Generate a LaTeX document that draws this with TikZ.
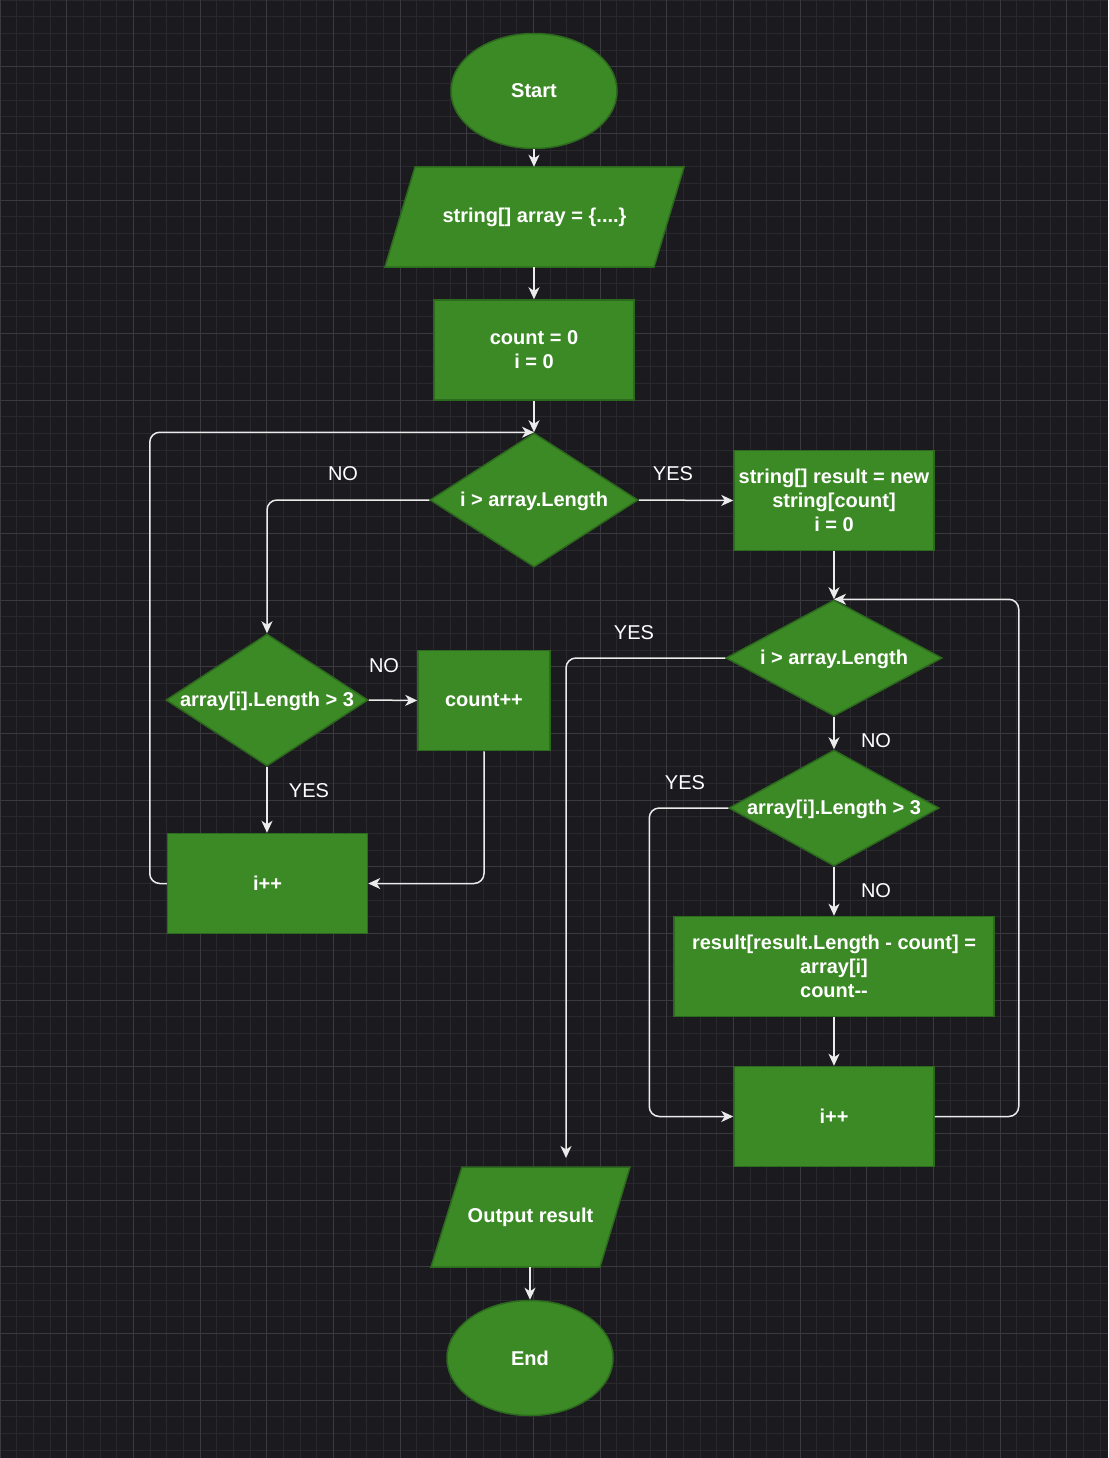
\documentclass[tikz,border=0pt]{standalone}
\usepackage{fontspec}
\setmainfont{Liberation Sans}
\usetikzlibrary{shapes.geometric,arrows.meta,calc}
\definecolor{bgc}{HTML}{1B1A1F}
\definecolor{gridminor}{HTML}{29282D}
\definecolor{gridmajor}{HTML}{3A393F}
\definecolor{boxfill}{HTML}{3C8A25}
\definecolor{boxline}{HTML}{2C6A1D}
\tikzset{
  shapebase/.style={fill=boxfill,draw=boxline,line width=1.5pt,text=white,
    font=\fontsize{20}{24}\selectfont\bfseries,align=center,inner sep=0pt},
  boxnode/.style={shapebase,rectangle,minimum width=#1,minimum height=100pt},
  ellnode/.style={shapebase,ellipse,minimum width=166pt,minimum height=115pt},
  dianode/.style={shapebase,diamond,inner sep=1pt},
  parashape/.style={fill=boxfill,draw=boxline,line width=1.5pt},
  paratext/.style={rectangle,text=white,font=\fontsize{20}{24}\selectfont\bfseries,
    align=center,inner sep=0pt,minimum height=100pt},
  conn/.style={draw=white!92!black,line width=1.5pt,rounded corners=10pt,
    -{Stealth[length=12pt,width=11pt,inset=3.5pt]}},
  lbl/.style={text=white,font=\fontsize{20}{24}\selectfont,inner sep=0pt},
  intext/.style={text=white,font=\fontsize{20}{24}\selectfont\bfseries,inner sep=0pt,yshift=-1.5pt}
}
\begin{document}
\begin{tikzpicture}[x=1pt,y=-1pt]
\fill[bgc] (0,0) rectangle (1108,1458);
\useasboundingbox (0,0) rectangle (1108,1458);
\foreach \k in {0,...,67} {\draw[gridminor,line width=0.8pt] ({\k*16.6667},0) -- ({\k*16.6667},1458);}
\foreach \k in {0,...,88} {\draw[gridminor,line width=0.8pt] (0,{\k*16.6667}) -- (1108,{\k*16.6667});}
\foreach \k in {0,...,16} {\draw[gridmajor,line width=1pt] ({\k*66.6667},0) -- ({\k*66.6667},1458);}
\foreach \k in {0,...,21} {\draw[gridmajor,line width=1pt] (0,{\k*66.6667}) -- (1108,{\k*66.6667});}

% parallelogram outlines
\path[parashape] (385,267) -- (415,167) -- (684,167) -- (654,267) -- cycle;
\path[parashape] (431,1267) -- (462,1167) -- (630,1167) -- (600,1267) -- cycle;

% nodes
\node[ellnode] (start) at (534,91) {Start};
\node[paratext,minimum width=239pt] (arr) at (534.5,217) {string[] array = \{....\}};
\node[boxnode=200pt] (init) at (534,350) {count = 0\\i = 0};
\node[dianode,minimum width=208pt,minimum height=134pt] (d1) at (534,500) {};
\node[intext] at (d1.center) {i > array.Length};
\node[boxnode=200pt] (res) at (834,500.5) {string[] result = new\\string[count]\\i = 0};
\node[dianode,minimum width=202pt,minimum height=132pt] (d3) at (267,700) {};
\node[intext] at (d3.center) {array[i].Length > 3};
\node[boxnode=132pt] (cpp) at (484,700.5) {count++};
\node[boxnode=200pt] (iL) at (267.5,883.5) {i++};
\node[dianode,minimum width=216pt,minimum height=116pt] (d2) at (834,658) {};
\node[intext] at (d2.center) {i > array.Length};
\node[dianode,minimum width=210pt,minimum height=116pt] (d4) at (834,808) {};
\node[intext] at (d4.center) {array[i].Length > 3};
\node[boxnode=320pt] (asg) at (834,966.5) {result[result.Length - count] =\\array[i]\\count-\kern0pt-};
\node[boxnode=200pt] (iR) at (834,1116.5) {i++};
\node[paratext,minimum width=138pt] (out) at (530.5,1217) {Output result};
\node[ellnode] (end) at (530,1358) {End};

\coordinate (outin) at (566,1158);

% connectors
\draw[conn] (start.south) -- (arr.north -| start.south);
\draw[conn] (arr.south -| init.north) -- (init.north);
\draw[conn] (init.south) -- (d1.north);
\draw[conn] (iL.west) -- ++(-17,0) |- (d1.north);
\draw[conn] (d1.west) -| (d3.north);
\draw[conn] (d1.east) -- (res.west);
\draw[conn] (d3.east) -- (cpp.west);
\draw[conn] (d3.south) -- (iL.north -| d3.south);
\draw[conn] (cpp.south) |- (iL.east);
\draw[conn] (res.south) -- (d2.north);
\draw[conn] (d2.west) -| (outin);
\draw[conn] (d2.south) -- (d4.north);
\draw[conn] (d4.west) -- ++(-79,0) |- (iR.west);
\draw[conn] (d4.south) -- (asg.north);
\draw[conn] (asg.south) -- (iR.north);
\draw[conn] (iR.east) -- ++(84,0) |- (d2.north);
\draw[conn] (out.south -| end.north) -- (end.north);

% labels
\node[lbl] (l1) at (343,474) {NO};
\node[lbl] (l2) at (673,474) {YES};
\node[lbl] (l3) at (384,666) {NO};
\node[lbl] (l4) at (309,791) {YES};
\node[lbl] (l5) at (634,633) {YES};
\node[lbl] (l6) at (876,741) {NO};
\node[lbl] (l7) at (685,783) {YES};
\node[lbl] (l8) at (876,891) {NO};
\end{tikzpicture}
\end{document}
